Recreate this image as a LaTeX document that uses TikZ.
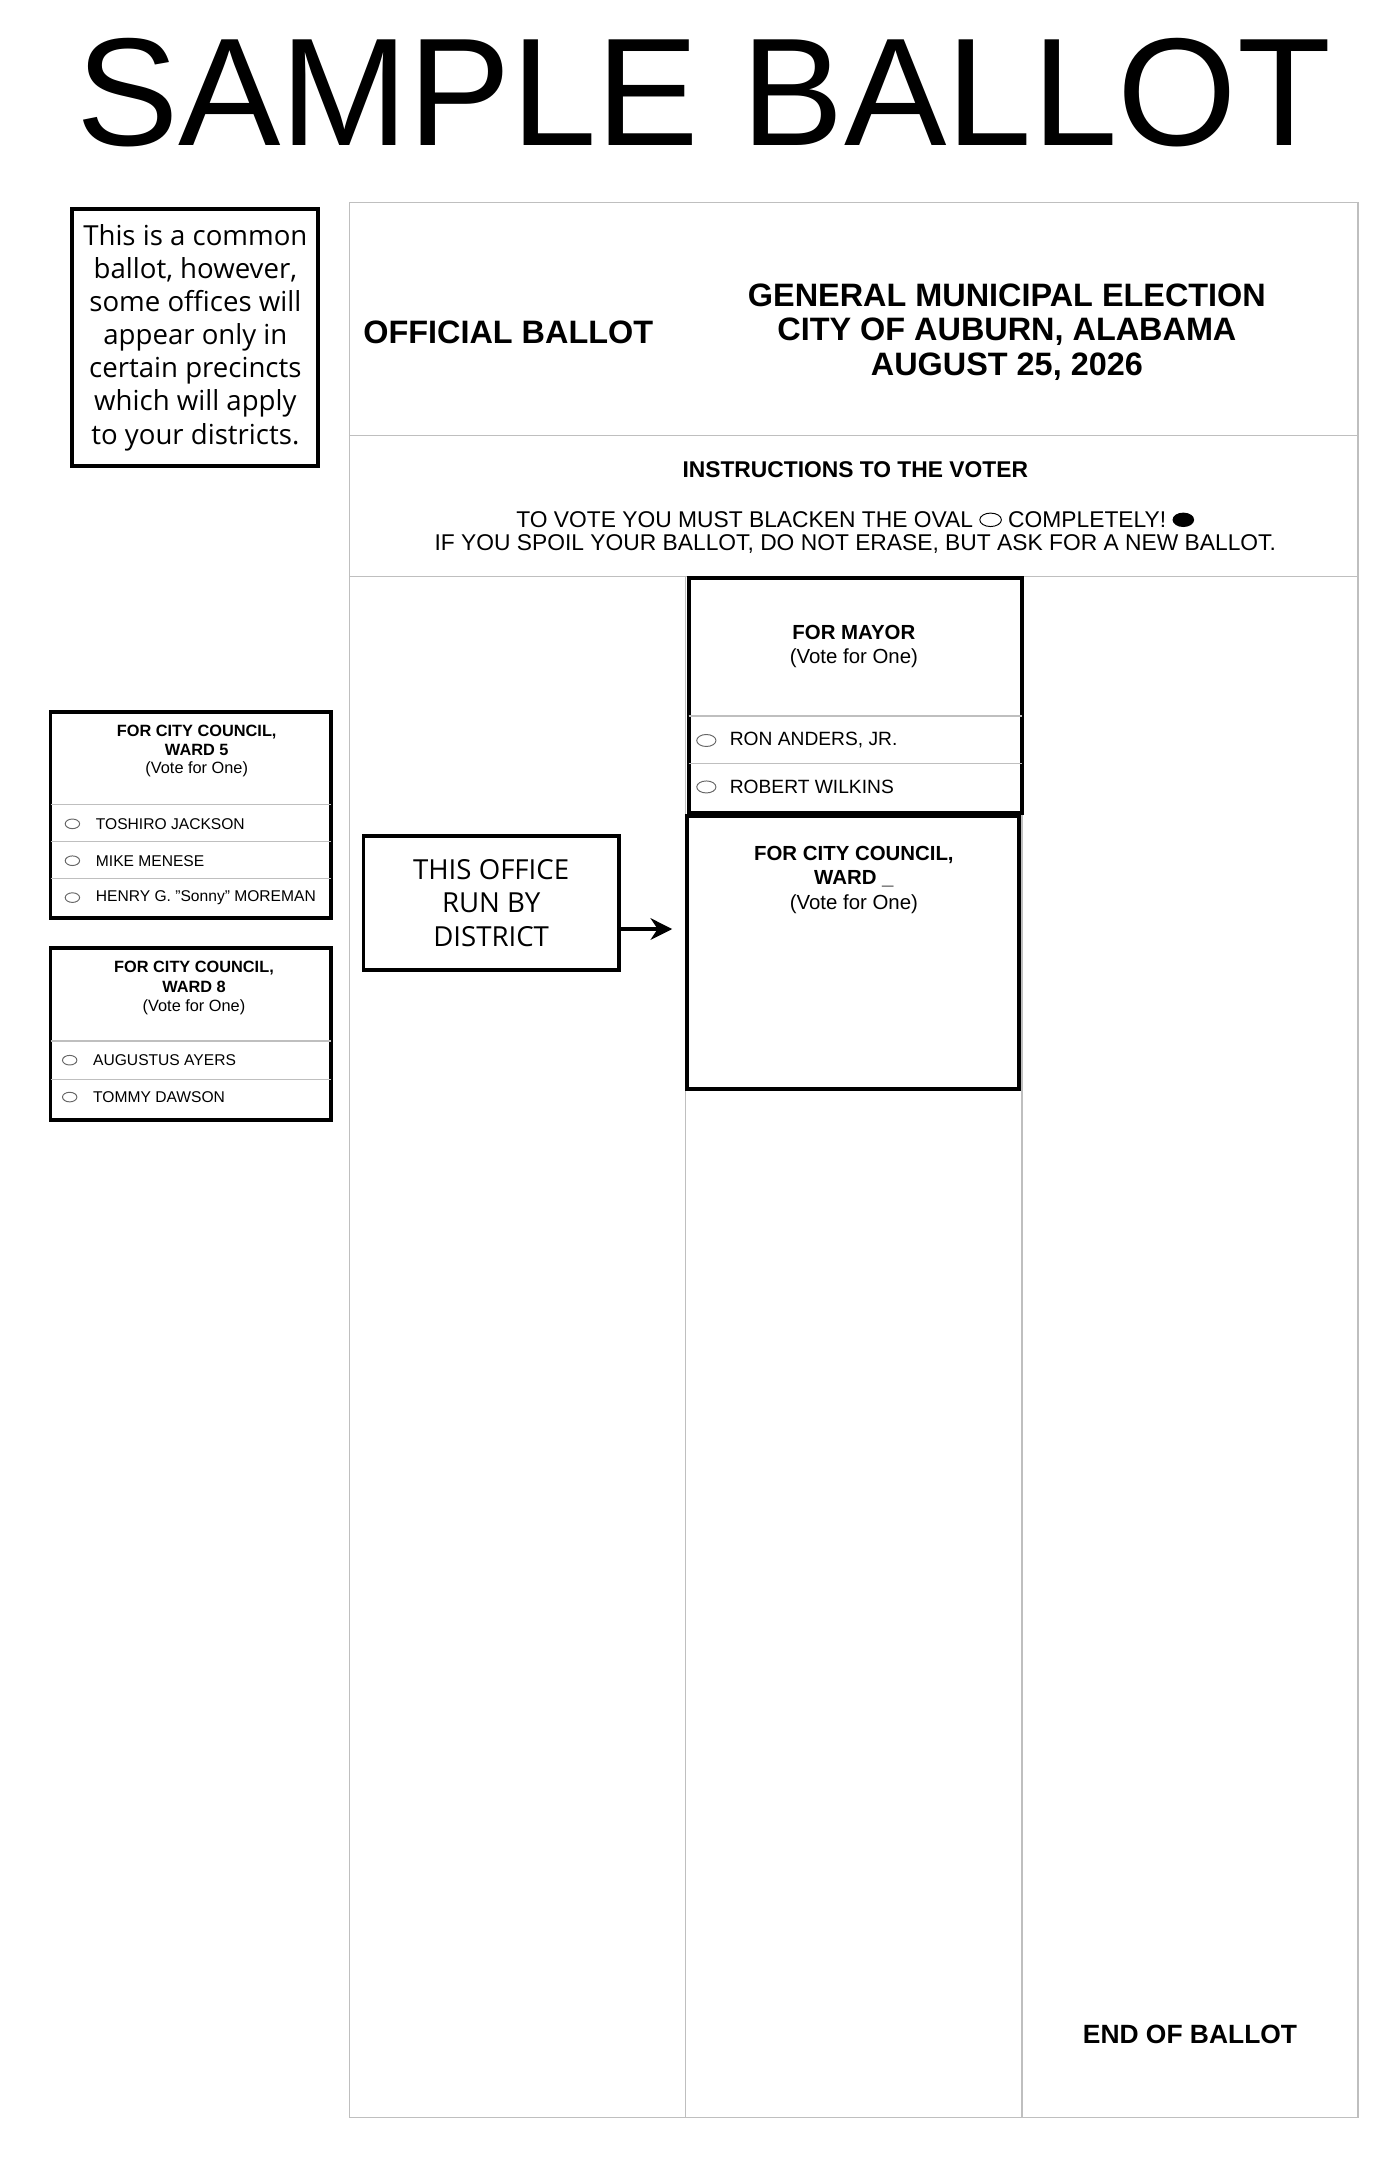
\documentclass[tikz,border=0pt]{standalone}
\usepackage{fontspec}
\setmainfont{Liberation Sans}
\newfontfamily\notefont{Open Sans}
\usetikzlibrary{arrows.meta,shapes.geometric}
\tikzset{
  frame/.style={draw=black!25, line width=0.5pt},
  box/.style={draw, line width=1.6pt},
  sep/.style={draw=black!25, line width=0.5pt},
  hdr/.style={font=\bfseries\fontsize{13.5}{16}\selectfont},
  cand/.style={anchor=west, font=\fontsize{8}{9}\selectfont},
  smallcand/.style={anchor=west, font=\fontsize{6.5}{7.5}\selectfont},
  oval/.style={draw=black!60, ellipse, inner sep=0pt, minimum width=8pt, minimum height=5pt},
  sov/.style={draw=black!60, ellipse, inner sep=0pt, minimum width=6pt, minimum height=4pt},
}
\begin{document}
\begin{tikzpicture}[x=0.02cm, y=-0.02cm]
    \useasboundingbox (0,0) rectangle (1024,1581);
    \node (title) at (515,68) {\fontsize{64}{70}\selectfont SAMPLE BALLOT};
    % note
    \node[box, minimum width=180*0.02cm, minimum height=188*0.02cm, align=center,
      font=\notefont\fontsize{11.5}{13.8}\selectfont] (note) at (143,247)
      {This is a common\\ballot, however,\\some offices will\\appear only in\\certain precincts\\which will apply\\to your districts.};
    % ballot frame
    \draw[frame] (256,148) rectangle (994,1550);
    \draw[sep] (256,319) -- (994,319);
    \draw[sep] (256,422) -- (994,422);
    \draw[sep] (502,422) -- (502,1550);
    \draw[sep] (748,422) -- (748,1550);
    \node[hdr] (official) at (372,243) {OFFICIAL BALLOT};
    \node[hdr, align=center, font=\bfseries\fontsize{13.5}{14.4}\selectfont] (election) at (737,243)
      {GENERAL MUNICIPAL ELECTION\\CITY OF AUBURN, ALABAMA\\AUGUST 25, 2026};
    \node[font=\bfseries\fontsize{9.5}{11}\selectfont] (instr) at (626,344) {INSTRUCTIONS TO THE VOTER};
    \node[font=\fontsize{9.5}{11}\selectfont] (line1) at (626,380) {TO VOTE YOU MUST BLACKEN THE OVAL \tikz\draw (0,0) ellipse (4.5pt and 2.8pt); COMPLETELY! \tikz\fill (0,0) ellipse (4.5pt and 3pt);};
    \node[font=\fontsize{9.5}{11}\selectfont] (line2) at (626,398) {IF YOU SPOIL YOUR BALLOT, DO NOT ERASE, BUT ASK FOR A NEW BALLOT.};
    % mayor
    \draw[box] (504,423) rectangle (748,595);
    \draw[sep] (504,524) -- (748,524);
    \draw[sep] (504,559) -- (748,559);
    \node[font=\bfseries\fontsize{8.5}{10}\selectfont] (mayor) at (625,463) {FOR MAYOR};
    \node[font=\fontsize{8.5}{10}\selectfont] (mvote) at (625,482) {(Vote for One)};
    \node[oval] (o1) at (517,542) {};
    \node[cand] (anders) at (528,542) {RON ANDERS, JR.};
    \node[oval] (o2) at (517,576) {};
    \node[cand] (wilkins) at (528,576) {ROBERT WILKINS};
    % council
    \draw[box] (503,597) rectangle (746,797);
    \node[font=\bfseries\fontsize{8.5}{10}\selectfont, align=center] (council) at (625,634) {FOR CITY COUNCIL,\\WARD \_};
    \node[font=\fontsize{8.5}{10}\selectfont] (cvote) at (625,662) {(Vote for One)};
    % district
    \node[box, minimum width=187*0.02cm, minimum height=98*0.02cm, align=center,
      font=\notefont\fontsize{11.5}{13.8}\selectfont] (district) at (359.5,661) {THIS OFFICE\\RUN BY\\DISTRICT};
    \coordinate (target) at (492,680);
    \draw[line width=2pt, -{Stealth[length=9pt,width=9pt]}] (district.east |- target) -- (target);
    % ward 5
    \draw[box] (37,521) rectangle (242,672);
    \node[font=\bfseries\fontsize{6.8}{8}\selectfont, align=center] (w5) at (144,542) {FOR CITY COUNCIL,\\WARD 5};
    \node[font=\fontsize{6.8}{8}\selectfont] (w5v) at (144,563) {(Vote for One)};
    \foreach \y in {589,616,643} \draw[sep] (37,\y) -- (242,\y);
    \node[sov] (a1) at (53,603) {};
    \node[smallcand] (jackson) at (64,603) {TOSHIRO JACKSON};
    \node[sov] (a2) at (53,630) {};
    \node[smallcand] (menese) at (64,630) {MIKE MENESE};
    \node[sov] (a3) at (53,657) {};
    \node[smallcand] (moreman) at (64,657) {HENRY G. "Sonny" MOREMAN};
    % ward 8
    \draw[box] (37,694) rectangle (242,820);
    \node[font=\bfseries\fontsize{6.8}{8}\selectfont, align=center] (w8) at (142,715) {FOR CITY COUNCIL,\\WARD 8};
    \node[font=\fontsize{6.8}{8}\selectfont] (w8v) at (142,737) {(Vote for One)};
    \foreach \y in {762,790} \draw[sep] (37,\y) -- (242,\y);
    \node[sov] (b1) at (51,776) {};
    \node[smallcand] (ayers) at (62,776) {AUGUSTUS AYERS};
    \node[sov] (b2) at (51,803) {};
    \node[smallcand] (dawson) at (62,803) {TOMMY DAWSON};
    \node[font=\bfseries\fontsize{11}{13}\selectfont] (end) at (871,1489) {END OF BALLOT};
\end{tikzpicture}
\end{document}
